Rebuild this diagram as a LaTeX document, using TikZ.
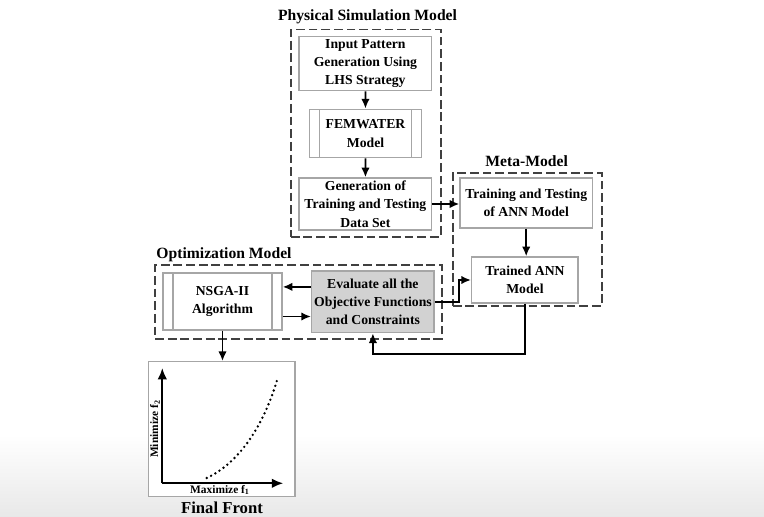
\documentclass[tikz,border=0pt]{standalone}
\usepackage{fontspec}
\setmainfont{Liberation Serif}
\usepackage{tikz}
\usetikzlibrary{arrows.meta, positioning, calc}

\begin{document}
\begin{tikzpicture}[x=0.02cm, y=-0.02cm,
    block/.style={rectangle, draw=gray!70, line width=0.8pt, fill=white, align=center, inner sep=1pt, font=\fontsize{7.8}{10.4}\selectfont\bfseries},
    subproc/.style={block, path picture={
        \draw[gray!70, line width=0.8pt]
          ([xshift=0.2cm]path picture bounding box.north west) -- ([xshift=0.2cm]path picture bounding box.south west)
          ([xshift=-0.2cm]path picture bounding box.north east) -- ([xshift=-0.2cm]path picture bounding box.south east);}},
    evalbox/.style={block, fill=gray!35},
    sys/.style={rectangle, draw=black!75, line width=1.1pt, dash pattern=on 5pt off 2.2pt},
    title/.style={font=\fontsize{8.9}{10}\selectfont\bfseries},
    axislabel/.style={font=\fontsize{6.5}{7}\selectfont\bfseries, inner sep=0pt},
    arrow/.style={-{Latex[length=5.5pt, width=4.8pt]}, line width=1pt},
    axis/.style={-{Latex[length=6.5pt, width=5.5pt]}, line width=1.2pt}
]
\useasboundingbox (0,0) rectangle (764,517);
\shade[top color=white, bottom color=gray!18] (0,435) rectangle (764,517);

% System boundaries
\node[sys, minimum width=3.0cm, minimum height=4.15cm] (phys) at (365.7,133.2) {};
\node[sys, minimum width=2.98cm, minimum height=2.66cm] (meta) at (527.2,239.5) {};
\node[sys, minimum width=5.73cm, minimum height=1.48cm] (opt) at (298.4,302) {};
\node[title] (physt) at (367.5,16.7) {Physical Simulation Model};
\node[title] (metat) at (526.7,160.7) {Meta-Model};
\node[title] (optt) at (224,255) {Optimization Model};

% Physical simulation model
\node[block, minimum width=2.65cm, minimum height=1.08cm] (inp) at (365.4,63.7) {Input Pattern\\Generation Using\\LHS Strategy};
\node[subproc, minimum width=2.25cm, minimum height=0.97cm] (fem) at (365.5,133.5) {FEMWATER\\Model};
\node[block, minimum width=2.65cm, minimum height=1.04cm] (gen) at (365.4,204) {Generation of\\Training and Testing\\Data Set};

% Meta-model
\node[block, minimum width=2.65cm, minimum height=1.0cm] (train) at (526.2,203) {Training and Testing\\of ANN Model};
\node[block, minimum width=2.13cm, minimum height=0.92cm] (trained) at (524.9,280) {Trained ANN\\Model};

% Optimization model
\node[subproc, minimum width=2.38cm, minimum height=1.14cm] (nsga) at (222.5,301.5) {NSGA-II\\Algorithm};
\node[evalbox, minimum width=2.45cm, minimum height=1.23cm] (eval) at (372.9,301.9) {Evaluate all the\\Objective Functions\\and Constraints};

% Final front
\node[block, minimum width=2.93cm, minimum height=2.7cm] (front) at (221.7,429.2) {};
\node[title, font=\fontsize{9.5}{10}\selectfont\bfseries] (frontt) at (222,508) {Final Front};
\coordinate (o) at (162.3,483.3);
\coordinate (ytop) at (162.3,368);
\coordinate (xend) at (283.3,483.3);
\draw[axis] (o) -- (ytop);
\draw[axis] (o) -- (xend);
\node[axislabel, rotate=90] (ylab) at (155,429) {Minimize f\textsubscript{2}};
\node[axislabel] (xlab) at (220,490) {Maximize f\textsubscript{1}};
\draw[line width=1.5pt, line cap=round, dash pattern=on 0pt off 2.8pt] (206.7,478) .. controls (235,465) and (262,432) .. (277.7,378);

% Connections
\draw[arrow] (inp) -- (fem);
\draw[arrow] (fem) -- (gen);
\draw[arrow] (gen.east) -- (gen.east -| train.west);
\draw[arrow] (train.south) -- (train.south |- trained.north);
\draw[arrow] (eval.east) -- ++(24,0) |- (trained.west);
\draw[arrow] (trained.south) -- ++(0,50) -| (eval.south);
\draw[arrow] ([yshift=0.3cm]eval.west) -- ([yshift=0.3cm]eval.west -| nsga.east);
\draw[arrow] ([yshift=-0.3cm]nsga.east) -- ([yshift=-0.3cm]nsga.east -| eval.west);
\draw[arrow] (nsga.south) -- (nsga.south |- front.north);
\end{tikzpicture}
\end{document}
